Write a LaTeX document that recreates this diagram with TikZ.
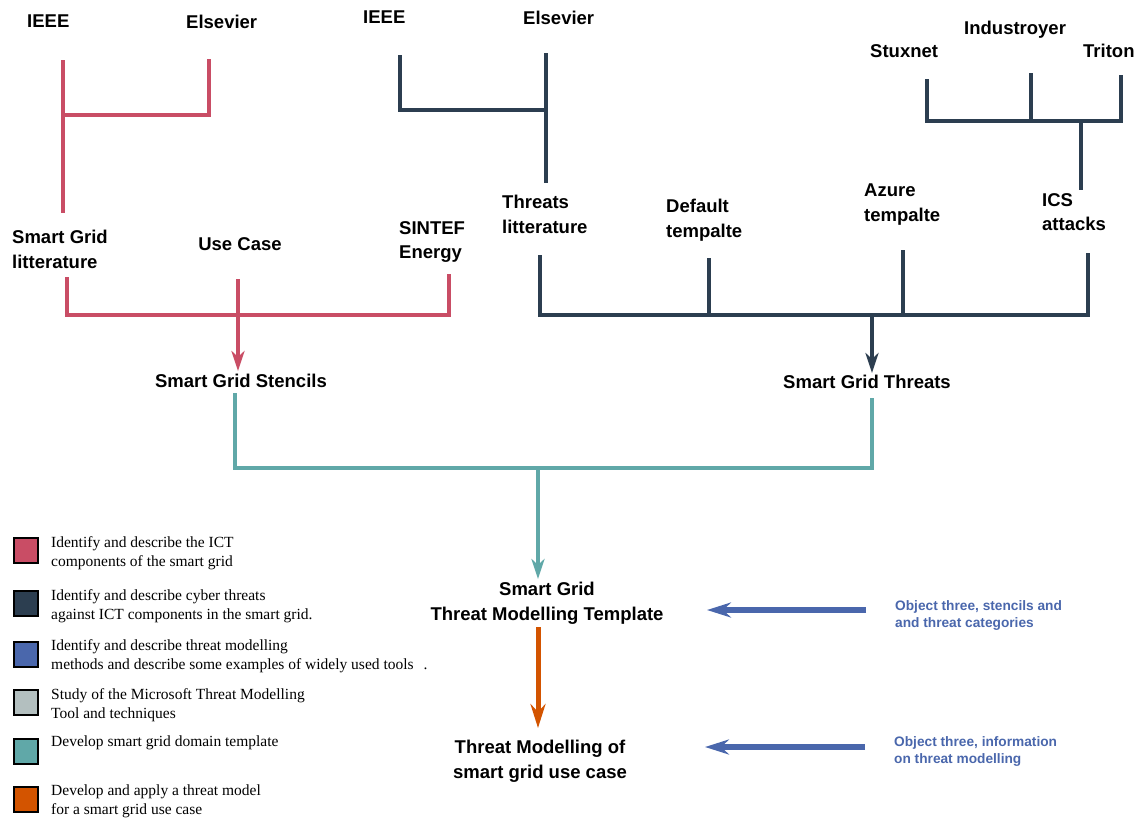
\documentclass[tikz,border=0pt]{standalone}
\usepackage{fontspec}
\setmainfont{Liberation Serif}
\newfontfamily\labelfont{Liberation Sans}
\usetikzlibrary{arrows.meta}

\definecolor{rosered}{RGB}{201,77,101}
\definecolor{navy}{RGB}{44,62,80}
\definecolor{tealc}{RGB}{96,168,168}
\definecolor{orangec}{RGB}{211,84,0}
\definecolor{tmblue}{RGB}{74,103,172}
\definecolor{greyc}{RGB}{179,191,191}

\begin{document}
\begin{tikzpicture}[x=1pt,y=-1pt,
  lbl/.style={font=\labelfont\bfseries\fontsize{18.5}{24.5}\selectfont, inner sep=0pt, align=left},
  note/.style={font=\labelfont\bfseries\fontsize{13.7}{17}\selectfont, text=tmblue, inner sep=0pt, align=left, anchor=north west},
  legtext/.style={font=\fontsize{15.5}{19}\selectfont, inner sep=0pt, align=left, anchor=north west},
  legbox/.style={draw=black, line width=2pt, minimum width=24pt, minimum height=25pt, inner sep=0pt, anchor=north west},
  tree/.style={line width=4.5pt, line join=miter},
  tip/.style={-{Stealth[length=20pt,width=13pt,inset=6pt]}},
  bigtip/.style={-{Stealth[length=24pt,width=15pt,inset=8pt]}}
]
\useasboundingbox (0,0) rectangle (1143,817);

% ---- labels ----
\node[lbl, anchor=north west] (ieeeA) at (27,15) {IEEE};
\node[lbl, anchor=north west] (elsA) at (186,15) {Elsevier};
\node[lbl, anchor=north west] (ieeeB) at (363,11) {IEEE};
\node[lbl, anchor=north west] (elsB) at (523,11) {Elsevier};
\node[lbl, anchor=north west] (stux) at (870,44) {Stuxnet};
\node[lbl, anchor=north west] (indus) at (964,21) {Industroyer};
\node[lbl, anchor=north west] (triton) at (1083,44) {Triton};
\node[lbl, anchor=north west] (sglit) at (12,230) {Smart Grid\\litterature};
\node[lbl, anchor=north] (usecase) at (240,237) {Use Case};
\node[lbl, anchor=north west] (sintef) at (399,221) {SINTEF\\Energy};
\node[lbl, anchor=north west] (threatlit) at (502,195) {Threats\\litterature};
\node[lbl, anchor=north west] (default) at (666,199) {Default\\tempalte};
\node[lbl, anchor=north west] (azure) at (864,184) {Azure\\tempalte};
\node[lbl, anchor=north west] (ics) at (1042,193) {ICS\\attacks};
\node[lbl, anchor=north] (stencils) at (241,374) {Smart Grid Stencils};
\node[lbl, anchor=north] (sgthreats) at (867,375) {Smart Grid Threats};
\node[lbl, anchor=north, align=center] (template) at (547,582) {Smart Grid\\Threat Modelling Template};
\node[lbl, anchor=north, align=center] (tmuse) at (540,740) {Threat Modelling of\\smart grid use case};

\node[note] (noteA) at (895,600) {Object three, stencils and\\and threat categories};
\node[note] (noteB) at (894,736) {Object three, information\\on threat modelling};

% ---- tree end points ----
\coordinate (pa1) at (63,60);   \coordinate (pa2) at (63,213);
\coordinate (pb1) at (209,59);  \coordinate (pj1) at (63,115);
\coordinate (na1) at (400,55);  \coordinate (nj1) at (400,110);
\coordinate (nb1) at (546,53);  \coordinate (nb2) at (546,183);
\coordinate (ra1) at (927,79);  \coordinate (rb1) at (1031,73);
\coordinate (rc1) at (1121,75); \coordinate (rj) at (927,121);
\coordinate (rd1) at (1081,121); \coordinate (rd2) at (1081,190);
\coordinate (qa1) at (67,277);  \coordinate (qc1) at (449,274);
\coordinate (qj) at (67,315);   \coordinate (qb1) at (238,279);
\coordinate (qb2) at (238,371);
\coordinate (ta1) at (540,255); \coordinate (tb1) at (709,258);
\coordinate (tc1) at (903,250); \coordinate (td1) at (1088,253);
\coordinate (tj) at (540,315);  \coordinate (te1) at (872,315);
\coordinate (te2) at (872,373);
\coordinate (ga1) at (235,393); \coordinate (gb1) at (872,398);
\coordinate (gj) at (235,468);  \coordinate (gc1) at (538,468);
\coordinate (gc2) at (538,579);
\coordinate (oa1) at (538,627); \coordinate (oa2) at (538,728);
\coordinate (ba1) at (866,610); \coordinate (ba2) at (707,610);
\coordinate (bb1) at (865,747); \coordinate (bb2) at (705,747);

% ---- literature tree (ICT components) ----
\draw[tree, rosered] (pb1) -- (pb1 |- pj1) -- (pj1);
\draw[tree, rosered] (pa1) -- (pa2);
\draw[tree, rosered] (qa1) -- (qj) -- (qc1 |- qj) -- (qc1);
\draw[tree, rosered, tip] (qb1) -- (qb2);

% ---- threat trees ----
\draw[tree, navy] (na1) -- (nj1) -- (nj1 -| nb1);
\draw[tree, navy] (nb1) -- (nb2);
\draw[tree, navy] (ra1) -- (rj) -- (rj -| rc1) -- (rc1);
\draw[tree, navy] (rb1) -- (rb1 |- rj);
\draw[tree, navy] (rd1) -- (rd2);
\draw[tree, navy] (ta1) -- (tj) -- (tj -| td1) -- (td1);
\draw[tree, navy] (tb1) -- (tb1 |- tj);
\draw[tree, navy] (tc1) -- (tc1 |- tj);
\draw[tree, navy, tip] (te1) -- (te2);

% ---- domain template ----
\draw[tree, tealc] (ga1) -- (gj) -- (gj -| gb1) -- (gb1);
\draw[tree, tealc, tip] (gc1) -- (gc2);

% ---- threat model ----
\draw[line width=5pt, orangec, bigtip] (oa1) -- (oa2);

% ---- inputs ----
\draw[line width=6pt, tmblue, bigtip] (ba1) -- (ba2);
\draw[line width=6pt, tmblue, bigtip] (bb1) -- (bb2);

% ---- legend ----
\node[legbox, fill=rosered] (lb1) at (13,537) {};
\node[legbox, fill=navy]    (lb2) at (13,590) {};
\node[legbox, fill=tmblue]  (lb3) at (13,641) {};
\node[legbox, fill=greyc]   (lb4) at (13,689) {};
\node[legbox, fill=tealc]   (lb5) at (13,738) {};
\node[legbox, fill=orangec] (lb6) at (13,786) {};

\node[legtext] (lt1) at (51,536) {Identify and describe the ICT\\components of the smart grid};
\node[legtext] (lt2) at (51,589) {Identify and describe cyber threats\\against ICT components in the smart grid.};
\node[legtext] (lt3) at (51,639) {Identify and describe threat modelling\\methods and describe some examples of widely used tools\hspace{10pt}.};
\node[legtext] (lt4) at (51,688) {Study of the Microsoft Threat Modelling\\Tool and techniques};
\node[legtext] (lt5) at (51,736) {Develop smart grid domain template};
\node[legtext] (lt6) at (51,785) {Develop and apply a threat model\\for a smart grid use case};
\end{tikzpicture}
\end{document}
